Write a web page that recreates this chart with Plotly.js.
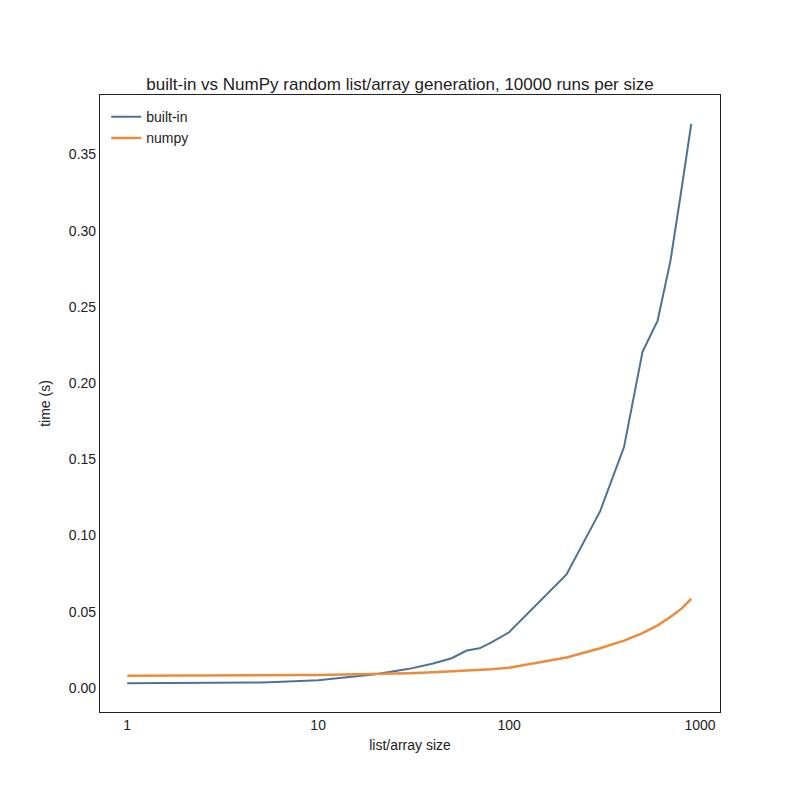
<!DOCTYPE html>
<html>
<head>
<meta charset="utf-8">
<script src="https://cdn.plot.ly/plotly-3.0.1.min.js"></script>
<style>body{margin:0;background:#fff}#chart{width:800px;height:800px}</style>
</head>
<body>
<div id="chart"></div>
<script>
// list/array sizes
const sizes = [1, 2, 3, 4, 5, 6, 7, 8, 9, 10, 20, 30, 40, 50, 60, 70, 80, 90, 100,
  200, 300, 400, 500, 600, 700, 800, 900];
// timings (s) per 10000 runs
const builtinTimes = [0.0030, 0.0031, 0.0032, 0.0034, 0.0036, 0.0039, 0.0041, 0.0043, 0.0046, 0.0050,
  0.0090, 0.0125, 0.0160, 0.0195, 0.0245, 0.0260, 0.0295, 0.0330, 0.0365,
  0.0745, 0.1160, 0.1580, 0.2205, 0.2410, 0.2800, 0.3270, 0.3700];
const numpyTimes = [0.0080, 0.0080, 0.0081, 0.0081, 0.0082, 0.0082, 0.0082, 0.0083, 0.0084, 0.0085,
  0.0090, 0.0097, 0.0103, 0.0108, 0.0113, 0.0118, 0.0123, 0.0128, 0.0133,
  0.0200, 0.0260, 0.0310, 0.0360, 0.0410, 0.0465, 0.0520, 0.0585];

const font = { family: "Liberation Sans, Arial, sans-serif", size: 14, color: "#222" };

Plotly.newPlot("chart", [
  { name: "built-in", x: sizes, y: builtinTimes, type: "scatter", mode: "lines",
    line: { color: "#4c7294", width: 2 } },
  { name: "numpy", x: sizes, y: numpyTimes, type: "scatter", mode: "lines",
    line: { color: "#ea8c3c", width: 2.5 } },
], {
  width: 800, height: 800,
  margin: { l: 100, r: 80, t: 95, b: 88 },
  paper_bgcolor: "#fff", plot_bgcolor: "#fff",
  font: font,
  title: { text: "built-in vs NumPy random list/array generation, 10000 runs per size",
    font: { family: "Liberation Sans, Arial, sans-serif", size: 17, color: "#222" },
    x: 0.5, y: 0.887, yanchor: "bottom" },
  showlegend: true,
  legend: { x: 0.01, y: 0.99, xanchor: "left", yanchor: "top", bgcolor: "rgba(0,0,0,0)",
    font: font },
  xaxis: {
    type: "log", range: [Math.log10(0.72), Math.log10(1273)],
    tickvals: [1, 10, 100, 1000], ticktext: ["1", "10", "100", "1000"],
    showgrid: false, zeroline: false, showline: true, mirror: true,
    linecolor: "#222", linewidth: 1.2, ticks: "", tickfont: font,
    title: { text: "list/array size", font: font, standoff: 8 },
  },
  yaxis: {
    range: [-0.0158, 0.389], tickvals: [0, 0.05, 0.1, 0.15, 0.2, 0.25, 0.3, 0.35],
    tickformat: ".2f",
    showgrid: false, zeroline: false, showline: true, mirror: true,
    linecolor: "#222", linewidth: 1.2, ticks: "", tickfont: font,
    title: { text: "time (s)", font: font, standoff: 14 },
  },
}, { displayModeBar: false });
</script>
</body>
</html>
